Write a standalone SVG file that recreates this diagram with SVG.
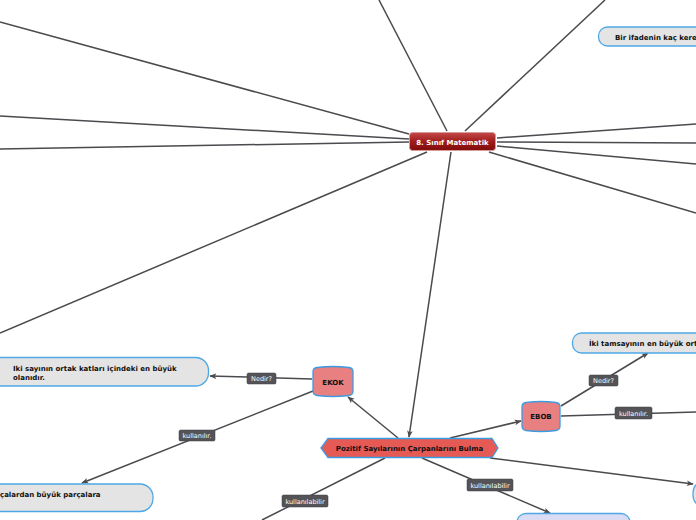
<svg xmlns="http://www.w3.org/2000/svg" width="696" height="520" viewBox="0 0 696 520">
<defs>
<linearGradient id="gCenter" x1="0" y1="0" x2="0" y2="1">
<stop offset="0" stop-color="#c24a48"/>
<stop offset="0.5" stop-color="#a01c1c"/>
<stop offset="1" stop-color="#7e0c0c"/>
</linearGradient>
<marker id="arr" viewBox="0 0 10 10" refX="9" refY="5" markerWidth="7" markerHeight="7" orient="auto" markerUnits="userSpaceOnUse">
<path d="M0,1 L10,5 L0,9 L2.5,5 Z" fill="#4a4a4f"/>
</marker>
<style>
.c{stroke:#4a4a4f;stroke-width:1.5;fill:none}
.lb rect{fill:#545458;stroke:#3f3f42;stroke-width:0.5}
.lb text{fill:#ffffff;font-family:"DejaVu Sans",Verdana,sans-serif;font-size:6.5px;text-anchor:middle}
.bub{fill:#e4e4e4;stroke:#4ea8e6;stroke-width:1.3}
.t{font-family:"DejaVu Sans",Verdana,sans-serif;font-size:7px;font-weight:bold;fill:#111111}
.red{fill:#e87f80;stroke:#3d9be0;stroke-width:1.3}
</style>
</defs>
<g id="connectors">
<line class="c" x1="379" y1="0" x2="447" y2="131"/>
<line class="c" x1="605" y1="0" x2="465" y2="131"/>
<line class="c" x1="0" y1="22" x2="409" y2="134"/>
<line class="c" x1="0" y1="116" x2="409" y2="139"/>
<line class="c" x1="0" y1="149" x2="409" y2="142"/>
<line class="c" x1="0" y1="333" x2="427" y2="152"/>
<line class="c" x1="497" y1="138" x2="696" y2="124"/>
<line class="c" x1="497" y1="142" x2="696" y2="143"/>
<line class="c" x1="497" y1="146" x2="696" y2="164"/>
<line class="c" x1="489" y1="152" x2="696" y2="213"/>
<line class="c" x1="451" y1="152" x2="409" y2="437" marker-end="url(#arr)"/>
<line class="c" x1="398" y1="438" x2="348" y2="397" marker-end="url(#arr)"/>
<line class="c" x1="450" y1="438" x2="521" y2="421" marker-end="url(#arr)"/>
<line class="c" x1="312" y1="379" x2="210" y2="376" marker-end="url(#arr)"/>
<line class="c" x1="313" y1="391" x2="82" y2="483" marker-end="url(#arr)"/>
<line class="c" x1="561" y1="406" x2="648" y2="353" marker-end="url(#arr)"/>
<line class="c" x1="561" y1="416" x2="696" y2="412"/>
<line class="c" x1="490" y1="458" x2="693" y2="484" marker-end="url(#arr)"/>
<line class="c" x1="385" y1="458" x2="262" y2="520"/>
<line class="c" x1="422" y1="458" x2="550" y2="513" marker-end="url(#arr)"/>
<g class="lb"><rect x="247" y="373" width="29" height="11" rx="1.5"/><text x="261.5" y="381">Nedir?</text></g>
<g class="lb"><rect x="179" y="430" width="36" height="11" rx="1.5"/><text x="197" y="438">kullanılır.</text></g>
<g class="lb"><rect x="589" y="375" width="29" height="11" rx="1.5"/><text x="603.5" y="383">Nedir?</text></g>
<g class="lb"><rect x="615" y="407" width="37" height="12" rx="1.5"/><text x="633.5" y="415.5">kullanılır.</text></g>
<g class="lb"><rect x="282" y="495" width="46" height="12" rx="1.5"/><text x="305" y="503.5">kullanılabilir</text></g>
<g class="lb"><rect x="467" y="479" width="46" height="12" rx="1.5"/><text x="490" y="487.5">kullanılabilir</text></g>
</g>
<g id="center">
<rect x="409.5" y="132.5" width="86" height="18" rx="3" fill="url(#gCenter)" stroke="#d99a9a" stroke-width="1"/>
<text x="452.5" y="144.5" text-anchor="middle" style="font-family:'DejaVu Sans',Verdana,sans-serif;font-size:7px;font-weight:bold;fill:#ffffff">8. Sınıf Matematik</text>
</g>
<g id="bir-ifadenin">
<rect class="bub" x="598.5" y="27" width="120" height="19" rx="9"/>
<text class="t" x="615" y="39.5">Bir ifadenin kaç kere</text>
</g>
<g id="ekok-def">
<rect class="bub" x="-20" y="357.5" width="228.5" height="28.5" rx="13"/>
<text class="t" x="13" y="370.5">Iki sayının ortak katları içindeki en büyük</text>
<text class="t" x="13" y="379.5">olanıdır.</text>
</g>
<g id="ekok">
<path class="red" d="M313,372 Q313,368 317,367.5 Q333,365.5 349,367.5 Q353,368 353,372 L353,391 Q353,395 349,395.5 Q333,397.5 317,395.5 Q313,395 313,391 Z"/>
<text class="t" x="333" y="384.5" text-anchor="middle">EKOK</text>
</g>
<g id="parcalar">
<rect class="bub" x="-30" y="484" width="183" height="27.5" rx="13"/>
<text class="t" x="0" y="497">çalardan büyük parçalara</text>
</g>
<g id="pozitif">
<path d="M321,448 L328,438.5 L492,438.5 L498,448 L492,457.5 L328,457.5 Z" fill="#e65a55" stroke="#3d9be0" stroke-width="1.3"/>
<text class="t" x="409.5" y="450.5" text-anchor="middle">Pozitif Sayılarının Çarpanlarını Bulma</text>
</g>
<g id="ebob">
<path class="red" d="M522,407 Q522,403 526,402.5 Q541,400.5 556,402.5 Q560,403 560,407 L560,426 Q560,430 556,430.5 Q541,432.5 526,430.5 Q522,430 522,426 Z"/>
<text class="t" x="541" y="419" text-anchor="middle">EBOB</text>
</g>
<g id="ebob-def">
<rect class="bub" x="572.5" y="333" width="150" height="20" rx="9"/>
<text class="t" x="589" y="346">İki tamsayının en büyük ort</text>
</g>
<g id="right-node">
<rect class="bub" x="693" y="480" width="60" height="28" rx="13"/>
</g>
<g id="bottom-node">
<rect x="517" y="513.5" width="113" height="22" rx="9" fill="#dadcf4" stroke="#4ea8e6" stroke-width="1.3"/>
</g>
</svg>
